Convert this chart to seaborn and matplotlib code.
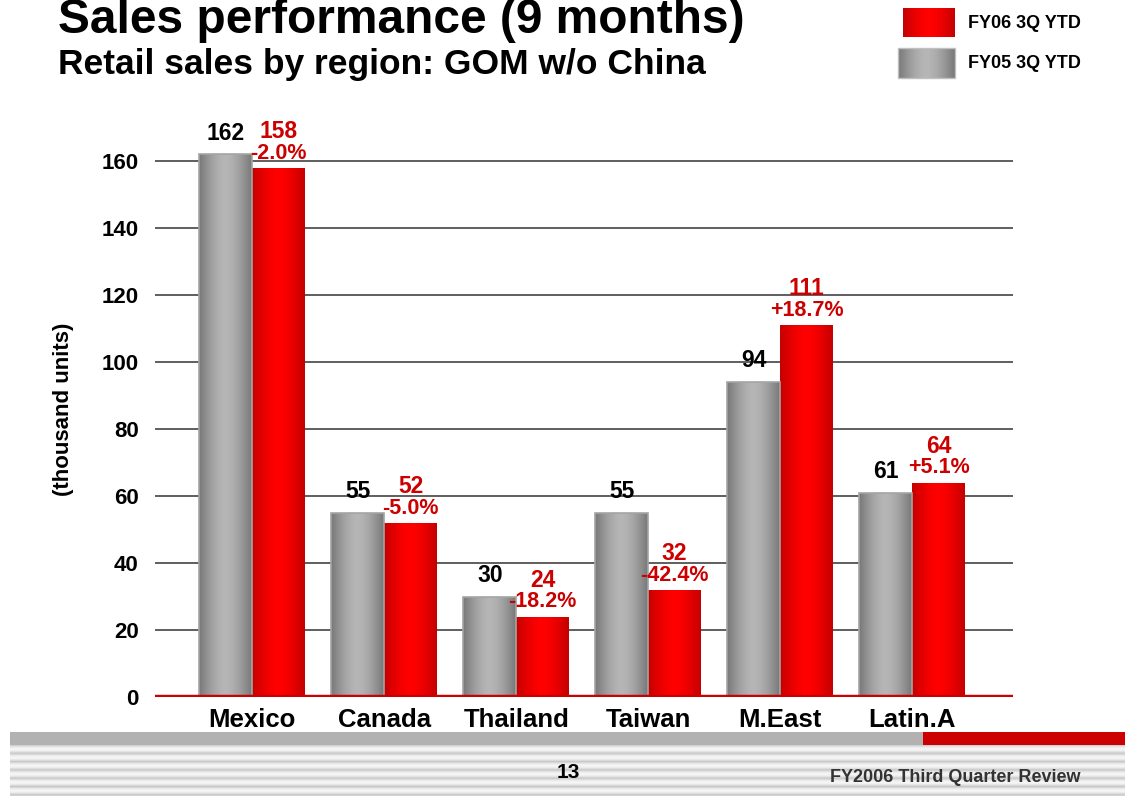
import numpy as np
import pandas as pd
import matplotlib
matplotlib.use("Agg")
import matplotlib.pyplot as plt
import matplotlib.colors as mcolors
from matplotlib.patches import Rectangle
import seaborn as sns


# =========================
# Data
# =========================

regions = ["Mexico", "Canada", "Thailand", "Taiwan", "M.East", "Latin.A"]
fy05 = [162, 55, 30, 55, 94, 61]
fy06 = [158, 52, 24, 32, 111, 64]
change = ["-2.0%", "-5.0%", "-18.2%", "-42.4%", "+18.7%", "+5.1%"]
periods = ["FY05 3Q YTD", "FY06 3Q YTD"]
yticks = [0, 20, 40, 60, 80, 100, 120, 140, 160]

data = pd.DataFrame({
    "region": regions * 2,
    "period": [periods[0]] * len(regions) + [periods[1]] * len(regions),
    "units": fy05 + fy06,
})

GRAY_EDGE, GRAY_MID = "#787878", "#b6b6b6"
RED_EDGE, RED_MID = "#c40000", "#ff0000"
LABEL_RED = "#cc0000"


def shade(edge, mid, n=64):
    t = np.abs(np.linspace(-1, 1, n)) ** 1.6
    e = np.array(mcolors.to_rgb(edge))
    m = np.array(mcolors.to_rgb(mid))
    row = m[None, :] * (1 - t[:, None]) + e[None, :] * t[:, None]
    return row[None, :, :]


# =========================
# Figure
# =========================

sns.set_style("white")
plt.rcParams["font.family"] = ["Liberation Sans", "DejaVu Sans"]
plt.rcParams["text.color"] = "black"
plt.rcParams["axes.labelcolor"] = "black"
plt.rcParams["xtick.color"] = "black"
plt.rcParams["ytick.color"] = "black"

fig = plt.figure(figsize=(11.25, 7.96), dpi=100)

deco = fig.add_axes([0, 0, 1, 1], zorder=0)
ax = fig.add_axes([0.138, 0.1244, 0.762, 0.7236], zorder=1)
ax.patch.set_alpha(0)

sns.barplot(
    data=data,
    x="region",
    y="units",
    hue="period",
    hue_order=periods,
    palette=[GRAY_MID, RED_MID],
    width=0.8,
    legend=False,
    ax=ax,
)

styles = [(GRAY_EDGE, GRAY_MID), (RED_EDGE, RED_MID)]
for k, (container, (edge, mid)) in enumerate(zip(ax.containers, styles)):
    grad = shade(edge, mid)
    for bar in container:
        x0 = bar.get_x()
        w = bar.get_width()
        h = bar.get_height()
        im = ax.imshow(grad, extent=[x0, x0 + w, 0, h], aspect="auto",
                       interpolation="bilinear", zorder=2.5)
        im.set_clip_path(bar)
        bar.set_facecolor("none")
        bar.set_zorder(3)
        if k == 0:
            bar.set_edgecolor("#a4a4a4")
            bar.set_linewidth(1.2)
        else:
            bar.set_linewidth(0)

# value labels
for bar, v in zip(ax.containers[0], fy05):
    ax.annotate(str(v), (bar.get_x() + bar.get_width() / 2, bar.get_height()),
                xytext=(0, 7), textcoords="offset points", ha="center",
                va="bottom", fontsize=16.5, fontweight="bold", color="black")

for bar, v, c in zip(ax.containers[1], fy06, change):
    xc = bar.get_x() + bar.get_width() / 2
    ax.annotate(c, (xc, bar.get_height()), xytext=(0, 3),
                textcoords="offset points", ha="center", va="bottom",
                fontsize=15.5, fontweight="bold", color=LABEL_RED)
    ax.annotate(str(v), (xc, bar.get_height()), xytext=(0, 18),
                textcoords="offset points", ha="center", va="bottom",
                fontsize=16.5, fontweight="bold", color=LABEL_RED)

ax.set_xlim(-0.735, 5.76)
ax.set_ylim(0, 172)
ax.set_yticks(yticks)
ax.grid(axis="y", color="#333333", linewidth=1.1)
ax.grid(axis="x", visible=False)
ax.set_axisbelow(True)
ax.axhline(0, color="#cc0000", linewidth=3.2, zorder=4)
sns.despine(ax=ax, left=True, bottom=True)

ax.set_xlabel("")
ax.set_ylabel("(thousand units)", fontsize=16, fontweight="bold", labelpad=20)
ax.tick_params(axis="y", length=0, pad=12, labelsize=16)
ax.tick_params(axis="x", length=0, pad=8)
for lab in ax.get_yticklabels():
    lab.set_fontweight("bold")
for lab in ax.get_xticklabels():
    lab.set_fontweight("bold")
    lab.set_fontsize(18.5)


# =========================
# Titles, legend, footer
# =========================

fig.text(0.052, 0.958, "Sales performance (9 months)", fontsize=34.5,
         fontweight="bold", va="baseline")
fig.text(0.052, 0.907, "Retail sales by region: GOM w/o China", fontsize=25.5,
         fontweight="bold", va="baseline")

deco.imshow(shade(RED_EDGE, RED_MID), extent=[903, 955, 37, 8],
            aspect="auto", interpolation="bilinear")
deco.imshow(shade(GRAY_EDGE, GRAY_MID), extent=[898, 955, 78, 48],
            aspect="auto", interpolation="bilinear")
deco.add_patch(Rectangle((898, 48), 57, 30, fill=False,
                         edgecolor="#c0c0c0", linewidth=1))
deco.text(968, 23, periods[1], fontsize=13, fontweight="bold", va="center")
deco.text(968, 64, periods[0], fontsize=13, fontweight="bold", va="center")

# footer band
deco.add_patch(Rectangle((10, 732), 913, 13, color="#b2b2b2", lw=0))
deco.add_patch(Rectangle((923, 732), 202, 13, color="#cc0000", lw=0))
yy = np.arange(745, 796, 0.5)
phase = ((yy - 745) % 8.3) / 8.3
vals = 0.78 + 0.18 * np.sin(np.pi * phase)
stripe = np.repeat(vals[:, None], 4, axis=1)
deco.imshow(stripe, extent=[10, 1125, 796, 745], cmap="gray", vmin=0,
            vmax=1, aspect="auto", interpolation="nearest")
deco.text(568, 772, "13", fontsize=15, fontweight="bold", ha="center",
          va="center")
deco.text(1080, 778, "FY2006 Third Quarter Review", fontsize=13,
          fontweight="bold", ha="right", va="center", color="#333333")

deco.set_xlim(0, 1125)
deco.set_ylim(796, 0)
deco.axis("off")

plt.savefig("out.png", dpi=100)
plt.close()
